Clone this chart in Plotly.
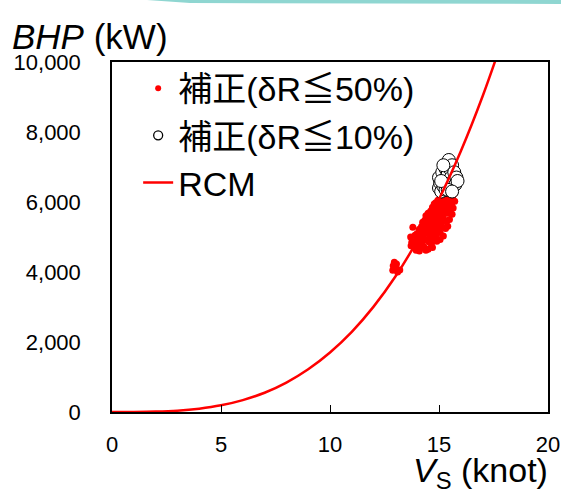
import plotly.graph_objects as go

# RCM curve (knot, kW)
rcm_v = [0, 1, 2, 3, 4, 5, 6, 7, 8, 9, 10, 11, 12, 13, 14, 15, 16, 17, 18]
rcm_bhp = [0, 1, 11, 38, 95, 190, 340, 550, 840, 1220, 1700, 2290, 3010, 3870, 4890, 6080, 7450, 9020, 10800]

# corrected points, dR <= 50%
red_v = [15.15, 15.3, 15.45, 15.6, 15.7, 15.55, 15.25,
         14.95, 15.05, 15.2, 15.35, 15.5, 15.62, 15.72, 15.4, 15.1, 14.85,
         14.7, 14.85, 15.0, 15.15, 15.3, 15.45, 15.58, 15.65, 14.95, 15.25, 15.4, 14.78,
         14.5, 14.62, 14.8, 14.9, 15.05, 15.2, 15.35, 15.5, 15.6, 14.7, 15.0, 15.15, 14.4,
         14.35, 14.5, 14.6, 14.75, 14.9, 15.05, 15.2, 15.35, 15.48, 14.25, 14.65, 14.85, 15.1, 14.45,
         14.2, 14.35, 14.48, 14.6, 14.75, 14.9, 15.0, 15.15, 15.3, 14.1, 14.55, 14.82, 15.4,
         14.0, 14.15, 14.3, 14.45, 14.6, 14.7, 14.88, 15.05, 15.2, 14.38, 14.8, 13.9,
         13.95, 14.1, 14.25, 14.4, 14.55, 14.7, 14.9, 14.2, 14.65, 15.05,
         13.85, 14.0, 14.15, 14.3, 14.5, 14.7, 14.1, 14.4, 13.95,
         13.75, 13.7, 13.8, 13.72,
         12.95, 13.0, 12.88, 13.1, 13.2, 12.9, 13.05]
red_bhp = [6250, 6280, 6220, 6300, 6240, 6180, 6190,
           6050, 6120, 6080, 6140, 6060, 6110, 6020, 6010, 5990, 5980,
           5850, 5900, 5930, 5870, 5920, 5880, 5940, 5830, 5810, 5800, 5820, 5940,
           5680, 5740, 5700, 5760, 5650, 5720, 5680, 5740, 5650, 5620, 5600, 5610, 5610,
           5480, 5540, 5450, 5520, 5560, 5480, 5530, 5450, 5500, 5420, 5400, 5410, 5420, 5570,
           5300, 5250, 5350, 5280, 5330, 5220, 5360, 5290, 5240, 5220, 5200, 5260, 5310,
           5100, 5150, 5060, 5120, 5010, 5160, 5080, 5130, 5030, 5180, 5000, 5050,
           4900, 4950, 4870, 4920, 4850, 4960, 4880, 4810, 4800, 4930,
           4700, 4750, 4680, 4720, 4650, 4700, 4600, 4620, 4620,
           4850, 5000, 5280, 4750,
           4280, 4150, 4050, 4000, 4060, 4180, 4230]

# corrected points, dR <= 10%
wht_v = [15.0, 15.05, 15.0, 15.1, 15.15, 15.2, 15.25, 15.3, 15.3, 15.35, 15.4, 15.45, 15.45,
         15.5, 15.55, 15.55, 15.6, 15.65, 15.7, 15.75, 15.8, 15.85, 15.2, 15.4, 15.1, 15.6]
wht_bhp = [6400, 6550, 6700, 6300, 6850, 6450, 6650, 6950, 6350, 7100, 6800, 6550, 7200,
           6950, 6400, 6700, 7050, 6600, 6850, 6500, 6700, 6600, 7050, 6350, 6600, 6300]

x_ticks = [0, 5, 10, 15, 20]
y_ticks = [0, 2000, 4000, 6000, 8000, 10000]
y_tick_text = ["0", "2,000", "4,000", "6,000", "8,000", "10,000"]

FONT = "Liberation Sans, Arial, Noto Sans CJK JP, sans-serif"
L, R, T, B = 112, 13, 62, 80
PW, PH = 561 - L - R, 492 - T - B

def px_x(p):
    return (p - L) / PW

def px_y(p):
    return (492 - B - p) / PH

fig = go.Figure()
fig.add_trace(go.Scatter(
    x=red_v, y=red_bhp, mode="markers", name="補正(δR≦50%)", showlegend=False,
    marker=dict(color="#ff0000", size=7, line=dict(width=0)),
))
fig.add_trace(go.Scatter(
    x=wht_v, y=wht_bhp, mode="markers", name="補正(δR≦10%)", showlegend=False,
    marker=dict(color="white", size=13, line=dict(color="black", width=1)),
))
fig.add_trace(go.Scatter(
    x=rcm_v, y=rcm_bhp, mode="lines", name="RCM", line_shape="spline", showlegend=False,
    line=dict(color="#ff0000", width=2.5),
))
# legend entries (symbols drawn smaller, as in the reference)
fig.add_trace(go.Scatter(x=[None], y=[None], mode="markers", name="補正(δR≦50%)",
                         marker=dict(color="#ff0000", size=6, line=dict(width=0))))
fig.add_trace(go.Scatter(x=[None], y=[None], mode="markers", name="補正(δR≦10%)",
                         marker=dict(color="white", size=9, line=dict(color="black", width=1.3))))
fig.add_trace(go.Scatter(x=[None], y=[None], mode="lines", name="RCM",
                         line=dict(color="#ff0000", width=2.5)))

fig.update_layout(
    width=561, height=492,
    margin=dict(l=L, r=R, t=T, b=B, autoexpand=False),
    paper_bgcolor="white", plot_bgcolor="white",
    font=dict(family=FONT, color="black", size=22),
    showlegend=True,
    legend=dict(x=0.06, y=1.007, xanchor="left", yanchor="top",
                font=dict(size=34, family=FONT), bgcolor="rgba(0,0,0,0)",
                itemsizing="trace", tracegroupgap=0),
    xaxis=dict(range=[0, 20], tickvals=x_ticks, ticks="inside", ticklen=7,
               tickcolor="black", showline=True, linecolor="black", linewidth=1.5,
               mirror=True, showgrid=False, zeroline=False, automargin=False,
               tickfont=dict(size=22), ticklabelstandoff=12),
    yaxis=dict(range=[0, 10000], tickvals=y_ticks, ticktext=y_tick_text,
               ticks="", showline=True, linecolor="black", linewidth=1.5,
               mirror=True, showgrid=False, zeroline=False, automargin=False,
               tickfont=dict(size=22), ticklabelstandoff=25),
    annotations=[
        dict(text="<i>BHP</i> (kW)", xref="paper", yref="paper",
             x=px_x(10), y=px_y(36), xanchor="left", yanchor="middle",
             showarrow=False, font=dict(size=35, family=FONT)),
        dict(text="<i>V</i><sub>S</sub> (knot)", xref="paper", yref="paper",
             x=px_x(550), y=px_y(472), xanchor="right", yanchor="middle",
             showarrow=False, font=dict(size=34, family=FONT)),
    ],
    shapes=[
        dict(type="path", xref="paper", yref="paper", layer="above",
             path=f"M {px_x(147)} {px_y(0)} L {px_x(561)} {px_y(0)} L {px_x(561)} {px_y(4)} "
                  f"L {px_x(190)} {px_y(3)} Z",
             fillcolor="#8fd6d1", line=dict(width=0)),
    ],
)

fig.write_html("out.html", config={"displayModeBar": False},
               post_script="document.body.style.margin='0';document.body.style.overflow='hidden';")
